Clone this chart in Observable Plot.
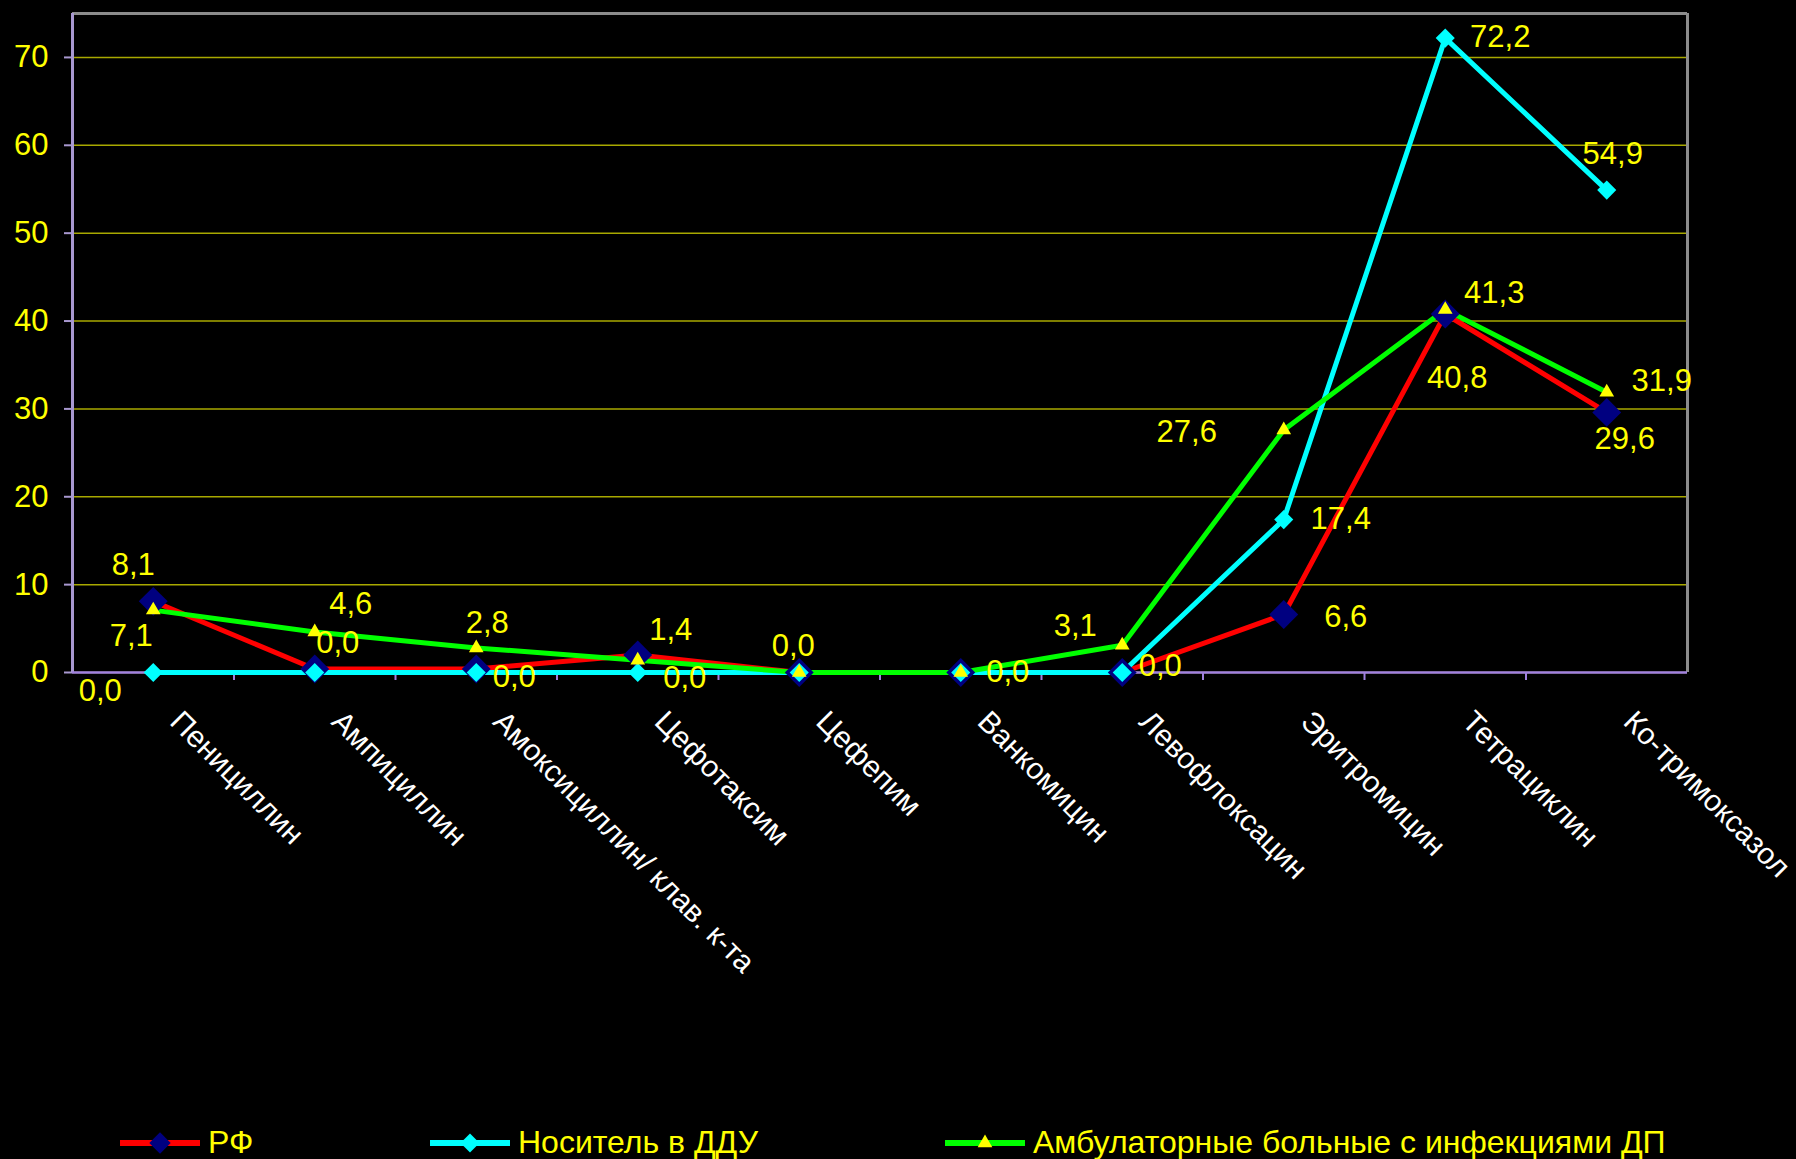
<!DOCTYPE html>
<html>
<head>
<meta charset="utf-8">
<script src="https://cdn.jsdelivr.net/npm/d3@7"></script>
<script src="https://cdn.jsdelivr.net/npm/@observablehq/plot@0.6"></script>
<style>
  html, body { margin: 0; padding: 0; background: #000; }
  #chart { width: 1796px; height: 1159px; overflow: hidden; background: #000;
           font-family: "Liberation Sans", Arial, sans-serif; }
  #legend { position: relative; height: 49px; }
  #legend .item { position: absolute; top: 8px; height: 49px; display: flex; align-items: center;
                  color: #ffff00; font-size: 32px; white-space: nowrap; }
  #legend svg { display: block; margin-right: 8px; }
</style>
</head>
<body>
<div id="chart"></div>
<script>
// Antibiotics on the x axis
const categories = [
  "Пенициллин", "Ампициллин", "Амоксициллин/ клав. к-та", "Цефотаксим", "Цефепим",
  "Ванкомицин", "Левофлоксацин", "Эритромицин", "Тетрациклин", "Ко-тримоксазол"
];

// Series names
const seriesNames = ["РФ", "Носитель в ДДУ", "Амбулаторные больные с инфекциями ДП"];

// Resistance, %
const rfValues        = [8.1, 0.4, 0.4, 2.0, 0.0, 0.0, 0.0, 6.6, 40.8, 29.6];
const carrierValues   = [0.0, 0.0, 0.0, 0.0, 0.0, 0.0, 0.0, 17.4, 72.2, 54.9];
const outpatientValues = [7.1, 4.6, 2.8, 1.4, 0.0, 0.0, 3.1, 27.6, 41.3, 31.9];

// Y axis ticks
const yTicks = [0, 10, 20, 30, 40, 50, 60, 70];

// Value-label placement around each point, [dx, dy] in px; null = no label
const rfLabelOffsets = [[-20, -36], null, null, null, null, null, null, [62, 3], [12, 64], [18, 27]];
const carrierLabelOffsets = [[-53, 19], [23, -29], [38, 5], [47, 6], [-6, -26], [47, 0], [38, -6], [57, -1], [55, -1], [6, -36]];
const outpatientLabelOffsets = [[-22, 26], [36, -28], [11, -25], [33, -30], null, null, [-47, -19], [-97, 2], [49, -17], [55, -11]];

const series = [
  {name: seriesNames[0], values: rfValues, offsets: rfLabelOffsets,
   line: "#ff0000", symbol: "diamond2", r: 13, marker: "#000080"},
  {name: seriesNames[1], values: carrierValues, offsets: carrierLabelOffsets,
   line: "#00ffff", symbol: "diamond2", r: 8.6, marker: "#00ffff"},
  {name: seriesNames[2], values: outpatientValues, offsets: outpatientLabelOffsets,
   line: "#00ff00", symbol: "triangle2", r: 7, marker: "#ffff00"}
];

const rowsOf = (s) => categories.map((c, i) => ({category: c, i, value: s.values[i], offset: s.offsets[i]}));
const fmt = (v) => v.toFixed(1).replace(".", ",");
const boundaries = d3.range(0.5, categories.length - 1, 1);

const W = 1796, H = 1110;
const lavender = "#a898d0", purple = "#a080e0", grey = "#8c8c8c", grid = "#a8a800";

const marks = [
  Plot.gridY(yTicks, {stroke: grid, strokeOpacity: 1, strokeWidth: 1.5}),
  Plot.ruleY([75], {stroke: grey, strokeWidth: 3}),
  Plot.ruleX([categories.length - 0.5], {stroke: grey, strokeWidth: 3}),
  Plot.ruleX([-0.5], {stroke: lavender, strokeWidth: 3}),
  Plot.ruleY([0], {stroke: purple, strokeWidth: 2.5}),
  Plot.axisY({ticks: yTicks, tickSize: 8, tickPadding: 16, stroke: lavender, strokeWidth: 2,
              fill: "#ffff00", fontSize: 31, label: null}),
  Plot.axisX({ticks: boundaries, tickSize: 8, stroke: purple, strokeWidth: 2, fill: "none", label: null}),
  Plot.axisX({ticks: d3.range(categories.length), tickFormat: (i) => categories[i],
              tickSize: 0, tickPadding: 0, tickRotate: 45, textAnchor: "start", lineAnchor: "middle",
              dx: 22, dy: 44, fill: "#ffffff", fontSize: 30, label: null}),
  // lines first, markers on top
  ...series.map((s) => Plot.line(rowsOf(s), {x: (d) => d.i, y: (d) => d.value,
                                             stroke: s.line, strokeWidth: 5, strokeLinejoin: "round"})),
  ...series.map((s) => Plot.dot(rowsOf(s), {x: (d) => d.i, y: (d) => d.value,
                                            symbol: s.symbol, r: s.r, fill: s.marker, stroke: "none"})),
  ...series.flatMap((s) => rowsOf(s).filter((d) => d.offset).map((d) =>
    Plot.text([d], {x: (e) => e.i, y: (e) => e.value, text: (e) => fmt(e.value),
                    dx: d.offset[0], dy: d.offset[1], fill: "#ffff00", fontSize: 31,
                    textAnchor: "middle", lineAnchor: "middle"})))
];

const chart = Plot.plot({
  width: W,
  height: H,
  marginLeft: 72,
  marginRight: W - 1687,
  marginTop: 13,
  marginBottom: H - 672,
  x: {type: "linear", domain: [-0.5, categories.length - 0.5], axis: null},
  y: {domain: [0, 75], axis: null},
  style: {background: "#000", fontFamily: "'Liberation Sans', Arial, sans-serif", fontSize: "30px", overflow: "visible"},
  marks
});

const root = document.getElementById("chart");
root.appendChild(chart);

// Legend below the plot
const legend = document.createElement("div");
legend.id = "legend";
const legendLeft = [120, 430, 945];
series.forEach((s, k) => {
  const item = document.createElement("div");
  item.className = "item";
  item.style.left = legendLeft[k] + "px";
  const symbol = s.symbol === "diamond2" ? d3.symbolDiamond2 : d3.symbolTriangle2;
  const path = d3.symbol(symbol, Math.PI * s.r * s.r * (k === 0 ? 0.55 : 1))();
  item.innerHTML =
    `<svg width="80" height="30" viewBox="0 0 80 30">` +
    `<line x1="0" x2="80" y1="15" y2="15" stroke="${s.line}" stroke-width="6"/>` +
    `<path d="${path}" transform="translate(40,15)" fill="${s.marker}"/></svg>`;
  const label = document.createElement("span");
  label.textContent = s.name;
  item.appendChild(label);
  legend.appendChild(item);
});
root.appendChild(legend);
</script>
</body>
</html>
